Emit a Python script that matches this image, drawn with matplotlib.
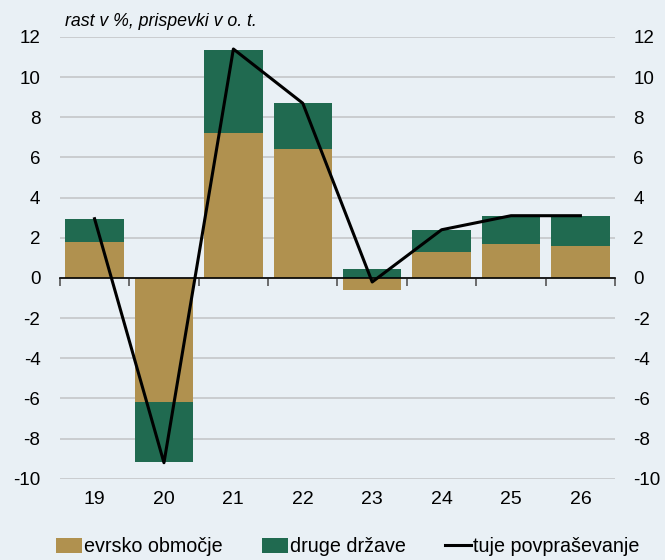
import matplotlib.pyplot as plt
import numpy as np

plt.rcParams['font.family'] = ['Liberation Sans', 'DejaVu Sans']

years = ['19', '20', '21', '22', '23', '24', '25', '26']
euro_area = [1.8, -6.2, 7.2, 6.4, -0.6, 1.3, 1.7, 1.6]
other_countries = [1.15, -2.95, 4.15, 2.3, 0.45, 1.1, 1.4, 1.5]
foreign_demand = [2.95, -9.2, 11.4, 8.7, -0.2, 2.4, 3.1, 3.1]

bg = '#e9f0f5'
tan = '#b0914f'
green = '#206a50'

fig = plt.figure(figsize=(6.65, 5.6), dpi=100, facecolor=bg)
ax = fig.add_axes([0.09, 0.145, 0.835, 0.789], facecolor=bg)

x = np.arange(len(years))
euro = np.array(euro_area)
other = np.array(other_countries)
# stack: same-sign parts on top of euro area, otherwise from zero
other_base = np.where(np.sign(other) == np.sign(euro), euro, 0)
ax.bar(x, euro, width=0.84, color=tan, label='evrsko območje', zorder=2)
ax.bar(x, other, bottom=other_base, width=0.84, color=green, label='druge države', zorder=2)
ax.plot(x, foreign_demand, color='black', lw=2.2, label='tuje povpraševanje', zorder=3)

ax.set_xlim(-0.5, len(years) - 0.5)
ax.set_ylim(-10, 12)
ax.set_yticks(np.arange(-10, 13, 2))
ax.set_yticklabels([str(v) for v in range(-10, 13, 2)], fontsize=13.5)
ax.tick_params(axis='y', length=0, pad=14)
ax.grid(axis='y', color='#c4c7c9', lw=1.2, zorder=0)

for s in ['left', 'right', 'top']:
    ax.spines[s].set_visible(False)
ax.spines['bottom'].set_position(('data', 0))
ax.spines['bottom'].set_color('black')
ax.spines['bottom'].set_linewidth(1.2)
ax.set_xticks(np.arange(-0.5, len(years), 1.0))
ax.set_xticklabels([])
ax.tick_params(axis='x', length=6, width=1.2, color='#555555', direction='out')

sec = ax.secondary_xaxis(0)
sec.set_xticks(x)
sec.set_xticklabels(years, fontsize=14)
sec.tick_params(length=0, pad=9)
sec.spines['bottom'].set_visible(False)

ax2 = ax.twinx()
ax2.set_ylim(ax.get_ylim())
ax2.set_yticks(np.arange(-10, 13, 2))
ax2.set_yticklabels([str(v) for v in range(-10, 13, 2)], fontsize=13.5)
ax2.tick_params(axis='y', length=0, pad=13)
for s in ['left', 'right', 'top', 'bottom']:
    ax2.spines[s].set_visible(False)

fig.text(0.098, 0.947, 'rast v %, prispevki v o. t.', fontsize=12.8, style='italic',
         ha='left', va='bottom')

handles, labels = ax.get_legend_handles_labels()
order = [1, 2, 0]
fig.legend([handles[i] for i in order], [labels[i] for i in order],
           loc='lower center', bbox_to_anchor=(0.523, -0.025), ncol=3, frameon=False,
           fontsize=14.2, handlelength=1.3, handleheight=0.75, handletextpad=0.1,
           columnspacing=2.0)

fig.savefig('out.png', dpi=100, facecolor=bg)
